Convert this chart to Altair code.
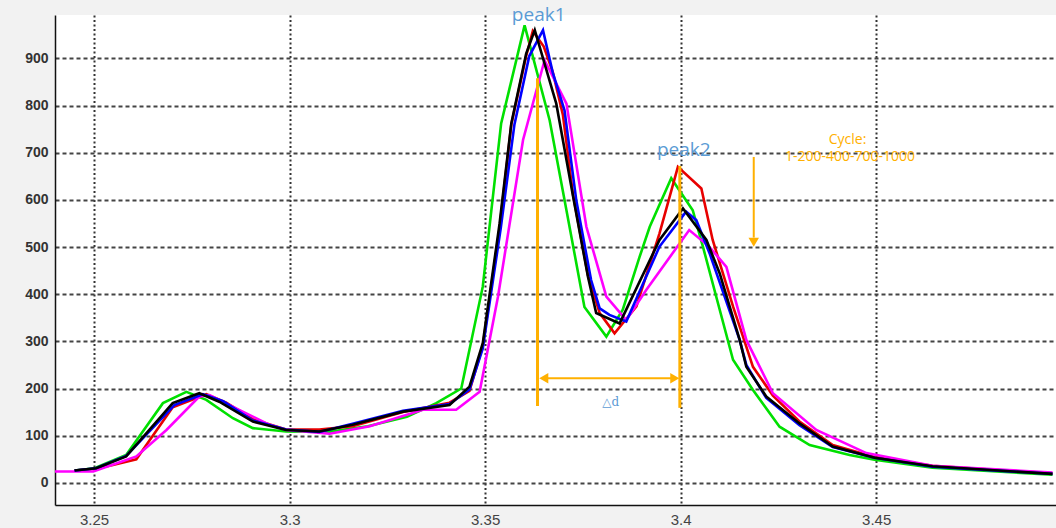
import altair as alt
import pandas as pd

# ---- data ----
green_x = [3.2450, 3.2501, 3.2582, 3.2676, 3.2736, 3.2787, 3.2855, 3.2906, 3.2991, 3.3100, 3.3200, 3.3300,
           3.3375, 3.3439, 3.3494, 3.3541, 3.3601, 3.3665, 3.3708, 3.3754, 3.3810, 3.3852, 3.3895, 3.3921,
           3.3976, 3.4031, 3.4057, 3.4134, 3.4185, 3.4253, 3.4330, 3.4432, 3.4496, 3.4644, 3.4951]
green_y = [26, 31, 59, 169, 193, 176, 137, 116, 109, 108, 120, 140,
           169, 200, 416, 762, 970, 769, 578, 373, 310, 367, 479, 543,
           646, 578, 501, 261, 197, 119, 80, 59, 49, 32, 17]

red_x = [3.2450, 3.2505, 3.2548, 3.2608, 3.2701, 3.2787, 3.2838, 3.2906, 3.2991, 3.3076, 3.3161, 3.3290,
         3.3409, 3.3460, 3.3494, 3.3537, 3.3567, 3.3605, 3.3622, 3.3650, 3.3673, 3.3699, 3.3725, 3.3763,
         3.3793, 3.3831, 3.3887, 3.3946, 3.3993, 3.4053, 3.4082, 3.4134, 3.4185, 3.4236, 3.4304, 3.4389,
         3.4496, 3.4644, 3.4951]
red_y = [26, 30, 38, 50, 160, 188, 170, 135, 113, 113, 120, 150,
         170, 195, 290, 540, 760, 905, 958, 925, 871, 780, 610, 440,
         360, 317, 374, 529, 670, 624, 515, 374, 246, 185, 130, 80,
         55, 36, 20]

blue_x = [3.2450, 3.2505, 3.2582, 3.2705, 3.2778, 3.2830, 3.2906, 3.2991, 3.3076, 3.3161, 3.3290, 3.3409,
          3.3460, 3.3494, 3.3540, 3.3575, 3.3613, 3.3648, 3.3673, 3.3703, 3.3733, 3.3771, 3.3793, 3.3818,
          3.3861, 3.3946, 3.4014, 3.4040, 3.4074, 3.4151, 3.4168, 3.4219, 3.4304, 3.4389, 3.4496, 3.4644,
          3.4951]
blue_y = [26, 31, 57, 165, 188, 173, 132, 113, 108, 125, 153, 167,
          198, 285, 540, 760, 905, 960, 870, 790, 600, 430, 370, 356,
          342, 501, 575, 557, 487, 303, 250, 180, 122, 76, 53, 34,
          19]

black_x = [3.2450, 3.2505, 3.2582, 3.2701, 3.2769, 3.2820, 3.2906, 3.2991, 3.3076, 3.3161, 3.3290, 3.3409,
           3.3460, 3.3494, 3.3537, 3.3567, 3.3605, 3.3627, 3.3682, 3.3725, 3.3763, 3.3784, 3.3844, 3.3946,
           3.4006, 3.4066, 3.4100, 3.4151, 3.4168, 3.4219, 3.4304, 3.4389, 3.4496, 3.4644, 3.4951]
black_y = [26, 31, 56, 169, 190, 172, 130, 112, 109, 123, 151, 165,
           204, 296, 550, 762, 910, 960, 804, 607, 437, 360, 338, 515,
           582, 515, 444, 303, 246, 183, 126, 77, 53, 35, 19]

magenta_x = [3.2400, 3.2498, 3.2608, 3.2685, 3.2769, 3.2795, 3.2863, 3.2949, 3.2991, 3.3102, 3.3205, 3.3341,
             3.3426, 3.3486, 3.3533, 3.3597, 3.3652, 3.3708, 3.3759, 3.3810, 3.3861, 3.3912, 3.4022, 3.4073,
             3.4117, 3.4168, 3.4236, 3.4347, 3.4475, 3.4644, 3.4951]
magenta_y = [24, 24, 56, 112, 183, 186, 158, 123, 112, 104, 120, 155,
             155, 193, 395, 727, 896, 804, 543, 395, 345, 409, 536, 501,
             458, 303, 190, 112, 63, 36, 22]

x_ticks = [3.25, 3.3, 3.35, 3.4, 3.45]
y_ticks = [0, 100, 200, 300, 400, 500, 600, 700, 800, 900]

# annotation data
vline_x = [3.3634, 3.3998]
vline_y1 = [858, 672]
vline_y2 = [163, 159]
harrow_x1, harrow_x2, harrow_y = 3.3650, 3.3985, 222
darrow_x, darrow_y1, darrow_y2 = 3.4187, 691, 510
labels_text = ["peak1", "peak2"]
labels_x = [3.3637, 3.4008]
labels_y = [991, 706]
delta_text, delta_x, delta_y = "△d", 3.3821, 172
cycle_lines = ["Cycle:", "1-200-400-700-1000"]
cycle_x = [3.4427, 3.4433]
cycle_y = [728, 690]

ORANGE = "#ffb000"
LBLUE = "#5b9bd5"

xs = alt.Scale(domain=[3.24, 3.496], nice=False, zero=False)
ys = alt.Scale(domain=[-47, 992], nice=False, zero=False)

def series(xv, yv, color):
    df = pd.DataFrame({"x": xv, "y": yv})
    return alt.Chart(df).mark_line(color=color, strokeWidth=2.6, clip=True).encode(
        x=alt.X("x:Q", scale=xs),
        y=alt.Y("y:Q", scale=ys),
        order="x:Q",
    )

base_axes = alt.Chart(pd.DataFrame({"x": [3.3], "y": [0]})).mark_point(opacity=0).encode(
    x=alt.X("x:Q", scale=xs, title=None,
            axis=alt.Axis(values=x_ticks, format="~g", grid=True, gridColor="#333",
                          gridDash=[2, 2.5], gridWidth=2, domainColor="#111", domainWidth=1.5,
                          ticks=False, labelPadding=7, labelFontSize=15, labelColor="#444",
                          labelFont="Liberation Sans")),
    y=alt.Y("y:Q", scale=ys, title=None,
            axis=alt.Axis(values=y_ticks, grid=True, gridColor="#444", gridDash=[4, 3],
                          gridWidth=2, domainColor="#111", domainWidth=1.5, ticks=False,
                          labelPadding=7, labelFontSize=14, labelFontWeight="bold",
                          labelColor="#333", labelFont="Liberation Sans")),
)

lines = [
    series(green_x, green_y, "#00e000"),
    series(red_x, red_y, "#e80000"),
    series(magenta_x, magenta_y, "#ff00ff"),
    series(blue_x, blue_y, "#0000ff"),
    series(black_x, black_y, "#000000"),
]

vdf = pd.DataFrame({"x": vline_x, "y": vline_y1, "y2": vline_y2})
vrules = alt.Chart(vdf).mark_rule(color=ORANGE, strokeWidth=3).encode(
    x=alt.X("x:Q", scale=xs), y=alt.Y("y:Q", scale=ys), y2="y2:Q")

hdf = pd.DataFrame({"x": [harrow_x1], "x2": [harrow_x2], "y": [harrow_y]})
hrule = alt.Chart(hdf).mark_rule(color=ORANGE, strokeWidth=2).encode(
    x=alt.X("x:Q", scale=xs), x2="x2:Q", y=alt.Y("y:Q", scale=ys))

heads = pd.DataFrame({"x": [harrow_x1, harrow_x2, darrow_x],
                      "y": [harrow_y, harrow_y, darrow_y2],
                      "shape": ["triangle-left", "triangle-right", "triangle-down"]})
arrowheads = alt.Chart(heads).mark_point(filled=True, color=ORANGE, opacity=1, size=110).encode(
    x=alt.X("x:Q", scale=xs), y=alt.Y("y:Q", scale=ys),
    shape=alt.Shape("shape:N", scale=None, legend=None))

ddf = pd.DataFrame({"x": [darrow_x], "y": [darrow_y1], "y2": [darrow_y2 + 10]})
drule = alt.Chart(ddf).mark_rule(color=ORANGE, strokeWidth=2).encode(
    x=alt.X("x:Q", scale=xs), y=alt.Y("y:Q", scale=ys), y2="y2:Q")

pdf = pd.DataFrame({"t": labels_text, "x": labels_x, "y": labels_y})
peak_txt = alt.Chart(pdf).mark_text(color=LBLUE, fontSize=19, font="Open Sans",
                                    baseline="middle", align="center").encode(
    x=alt.X("x:Q", scale=xs), y=alt.Y("y:Q", scale=ys), text="t:N")

dd = pd.DataFrame({"t": [delta_text], "x": [delta_x], "y": [delta_y]})
delta_txt = alt.Chart(dd).mark_text(color=LBLUE, fontSize=12, font="DejaVu Serif",
                                    baseline="middle", align="center").encode(
    x=alt.X("x:Q", scale=xs), y=alt.Y("y:Q", scale=ys), text="t:N")

cdf = pd.DataFrame({"t": cycle_lines, "x": cycle_x, "y": cycle_y})
cycle_txt = alt.Chart(cdf).mark_text(color=ORANGE, fontSize=14, font="Open Sans",
                                     baseline="middle", align="center").encode(
    x=alt.X("x:Q", scale=xs), y=alt.Y("y:Q", scale=ys), text="t:N")

chart = alt.layer(
    base_axes, *lines, vrules, hrule, drule, arrowheads, peak_txt, delta_txt, cycle_txt
).properties(
    width=1001, height=490,
    background="#f2f2f2",
    autosize=alt.AutoSizeParams(type="none"),
    padding={"left": 55, "top": 15, "right": 0, "bottom": 23},
).configure_view(
    fill="white", stroke=None
)

chart.save("out.html", embed_options={"renderer": "svg", "actions": False})
